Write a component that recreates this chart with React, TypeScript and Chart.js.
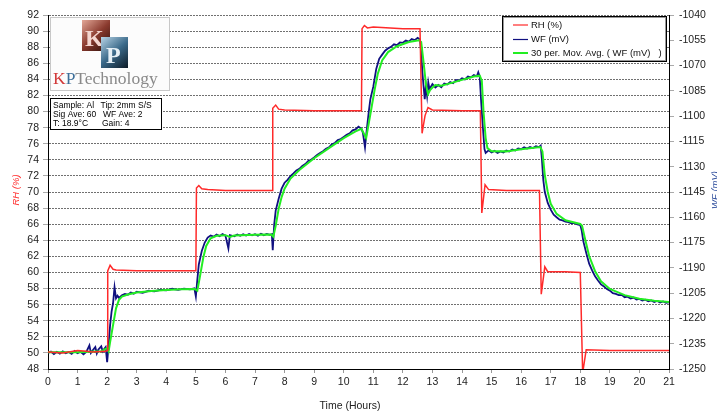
import React, { useEffect, useRef } from "react";
import { Chart, registerables } from "chart.js";

Chart.register(...registerables);

// ---------- DATA ----------
const rhTime = [0, 0.5, 1.0, 1.3, 1.5, 1.95, 2.0, 2.02, 2.1, 2.2, 2.3, 3.0, 4.0, 5.0, 5.02, 5.1, 5.2, 5.4, 6.0, 7.0, 7.58, 7.6, 7.7, 7.8, 8.0, 9.0, 10.0, 10.6, 10.62, 10.7, 10.8, 11.0, 12.0, 12.58, 12.65, 12.75, 12.85, 13.0, 14.0, 14.62, 14.67, 14.78, 14.9, 15.5, 16.62, 16.68, 16.8, 16.9, 17.5, 18.0, 18.08, 18.2, 19.0, 20.0, 21.0];
const rhValues = [50.1, 50.0, 50.3, 50.2, 50.1, 50.2, 50.3, 60.2, 60.9, 60.4, 60.3, 60.2, 60.2, 60.2, 70.5, 70.8, 70.4, 70.3, 70.2, 70.2, 70.2, 80.4, 80.8, 80.3, 80.2, 80.1, 80.1, 80.1, 90.3, 90.7, 90.4, 90.5, 90.3, 90.3, 77.3, 79.5, 80.5, 80.2, 80.1, 80.1, 67.4, 70.9, 70.3, 70.2, 70.2, 57.3, 60.7, 60.1, 60.1, 60.0, 47.5, 50.4, 50.3, 50.3, 50.3];

const wfTime = [0, 0.1, 0.2, 0.3, 0.4, 0.5, 0.6, 0.7, 0.8, 0.9, 1.0, 1.1, 1.2, 1.3, 1.4, 1.45, 1.5, 1.6, 1.65, 1.7, 1.8, 1.85, 1.9, 1.95, 2.0, 2.05, 2.1, 2.15, 2.2, 2.25, 2.3, 2.35, 2.4, 2.5, 2.6, 2.7, 2.8, 2.9, 3.0, 3.2, 3.4, 3.6, 3.8, 4.0, 4.2, 4.4, 4.6, 4.8, 4.95, 5.0, 5.05, 5.1, 5.2, 5.3, 5.4, 5.5, 5.6, 5.7, 5.8, 5.9, 6.0, 6.1, 6.15, 6.3, 6.4, 6.5, 6.6, 6.7, 6.8, 6.9, 7.0, 7.1, 7.2, 7.3, 7.4, 7.5, 7.57, 7.6, 7.65, 7.7, 7.8, 7.9, 8.0, 8.1, 8.2, 8.3, 8.4, 8.5, 8.6, 8.7, 8.8, 8.9, 9.0, 9.1, 9.2, 9.3, 9.4, 9.5, 9.6, 9.7, 9.8, 9.9, 10.0, 10.1, 10.2, 10.3, 10.4, 10.5, 10.6, 10.65, 10.72, 10.78, 10.85, 10.9, 11.0, 11.1, 11.2, 11.3, 11.4, 11.5, 11.6, 11.7, 11.8, 11.9, 12.0, 12.1, 12.2, 12.3, 12.4, 12.5, 12.58, 12.62, 12.66, 12.7, 12.74, 12.78, 12.82, 12.86, 12.9, 13.0, 13.1, 13.2, 13.3, 13.4, 13.5, 13.6, 13.7, 13.8, 13.9, 14.0, 14.1, 14.2, 14.3, 14.4, 14.5, 14.55, 14.6, 14.65, 14.72, 14.76, 14.8, 14.9, 15.0, 15.1, 15.2, 15.3, 15.4, 15.5, 15.6, 15.7, 15.8, 15.9, 16.0, 16.1, 16.2, 16.3, 16.4, 16.5, 16.6, 16.66, 16.7, 16.75, 16.8, 16.9, 17.0, 17.1, 17.2, 17.3, 17.4, 17.5, 17.6, 17.7, 17.8, 17.9, 18.0, 18.05, 18.1, 18.15, 18.2, 18.3, 18.4, 18.5, 18.6, 18.7, 18.8, 18.9, 19.0, 19.1, 19.2, 19.3, 19.4, 19.5, 19.6, 19.7, 19.8, 19.9, 20.0, 20.1, 20.2, 20.3, 20.4, 20.5, 20.6, 20.7, 20.8, 20.9, 21.0];
const wfValues = [-1240.5, -1239.6, -1241.2, -1239.8, -1240.9, -1239.5, -1240.7, -1239.9, -1241.0, -1239.3, -1240.6, -1239.8, -1241.3, -1239.7, -1236.0, -1240.5, -1239.2, -1237.0, -1240.8, -1238.5, -1236.5, -1239.5, -1238.2, -1237.0, -1246.0, -1236.0, -1224.0, -1216.0, -1211.0, -1201.5, -1208.0, -1206.5, -1207.8, -1206.2, -1205.5, -1205.9, -1204.6, -1205.3, -1204.2, -1204.8, -1203.6, -1203.9, -1203.0, -1203.4, -1202.4, -1203.0, -1202.3, -1202.8, -1202.2, -1207.0, -1197.0, -1188.0, -1180.0, -1175.0, -1172.0, -1170.8, -1171.5, -1170.3, -1171.2, -1170.0, -1170.9, -1178.5, -1170.6, -1171.3, -1170.2, -1171.0, -1170.1, -1170.8, -1169.9, -1170.7, -1170.0, -1170.9, -1169.8, -1170.6, -1169.9, -1170.4, -1170.0, -1179.5, -1164.0, -1156.0, -1149.0, -1143.0, -1139.5, -1137.8, -1135.6, -1134.0, -1132.2, -1131.3, -1129.5, -1128.4, -1126.6, -1125.9, -1124.5, -1123.0, -1121.8, -1120.8, -1119.3, -1118.5, -1116.7, -1115.9, -1114.2, -1113.6, -1112.3, -1111.0, -1110.2, -1108.4, -1107.9, -1106.2, -1107.5, -1110.0, -1118.5, -1108.0, -1097.0, -1090.0, -1082.5, -1072.0, -1066.0, -1063.5, -1061.2, -1059.8, -1058.9, -1057.4, -1057.9, -1056.3, -1056.5, -1055.2, -1055.8, -1054.3, -1054.9, -1053.5, -1054.5, -1062.0, -1074.0, -1082.0, -1090.0, -1082.0, -1088.0, -1080.0, -1084.0, -1081.0, -1083.0, -1081.5, -1082.8, -1080.6, -1081.2, -1079.8, -1080.5, -1078.6, -1079.0, -1077.6, -1078.2, -1076.5, -1077.0, -1075.6, -1076.4, -1074.0, -1076.8, -1092.0, -1110.0, -1119.5, -1121.8, -1120.3, -1121.5, -1120.6, -1121.8, -1120.9, -1121.5, -1120.4, -1121.0, -1119.8, -1120.4, -1119.2, -1119.6, -1118.5, -1119.2, -1118.3, -1118.9, -1117.9, -1118.4, -1117.5, -1125.0, -1138.0, -1145.0, -1151.5, -1155.5, -1158.5, -1160.0, -1161.4, -1161.8, -1162.6, -1162.9, -1163.6, -1163.3, -1164.2, -1164.6, -1168.0, -1174.0, -1177.5, -1181.0, -1187.5, -1191.5, -1195.0, -1197.5, -1199.8, -1201.0, -1202.6, -1203.5, -1205.0, -1205.4, -1206.2, -1206.0, -1207.4, -1207.1, -1208.2, -1207.6, -1208.8, -1208.4, -1209.4, -1208.9, -1209.8, -1209.3, -1210.2, -1209.6, -1210.5, -1209.9, -1210.8, -1210.4];

const maTime = [0, 1.0, 1.8, 1.95, 2.0, 2.05, 2.1, 2.2, 2.3, 2.4, 2.5, 2.7, 3.0, 3.5, 4.0, 4.5, 4.95, 5.05, 5.15, 5.25, 5.35, 5.5, 5.7, 6.0, 6.15, 6.3, 7.0, 7.55, 7.62, 7.7, 7.8, 7.9, 8.0, 8.2, 8.5, 9.0, 9.5, 10.0, 10.4, 10.6, 10.7, 10.76, 10.85, 10.95, 11.05, 11.15, 11.3, 11.5, 11.8, 12.2, 12.55, 12.62, 12.7, 12.78, 12.85, 12.92, 13.0, 13.1, 13.3, 13.5, 14.0, 14.4, 14.6, 14.67, 14.73, 14.8, 14.86, 15.0, 15.5, 16.0, 16.65, 16.72, 16.8, 16.9, 17.0, 17.2, 17.5, 18.0, 18.06, 18.15, 18.3, 18.5, 18.7, 19.0, 19.5, 20.0, 20.5, 21.0];
const maValues = [-1240.0, -1240.0, -1239.5, -1238.0, -1237.5, -1239.5, -1234.0, -1224.0, -1214.0, -1209.0, -1207.0, -1205.8, -1204.6, -1203.8, -1203.1, -1202.7, -1202.5, -1203.5, -1194.0, -1184.0, -1177.0, -1172.5, -1171.0, -1170.6, -1171.6, -1170.8, -1170.4, -1170.2, -1171.5, -1165.0, -1155.0, -1148.0, -1143.0, -1137.0, -1132.0, -1125.0, -1119.0, -1113.0, -1109.0, -1107.5, -1111.0, -1113.0, -1104.0, -1094.0, -1084.0, -1075.0, -1067.0, -1062.0, -1058.5, -1056.0, -1055.0, -1056.0, -1068.0, -1081.0, -1087.0, -1084.5, -1083.0, -1081.5, -1082.0, -1081.0, -1078.5, -1076.5, -1076.0, -1079.0, -1098.0, -1113.0, -1119.0, -1120.8, -1120.9, -1119.6, -1118.3, -1121.0, -1135.0, -1145.0, -1152.0, -1158.0, -1161.8, -1164.0, -1165.0, -1172.0, -1183.0, -1192.0, -1198.0, -1202.5, -1206.2, -1208.3, -1209.5, -1210.3];

const seriesNames = ["RH (%)", "WF (mV)", "30 per. Mov. Avg. ( WF (mV)   )"];
const seriesColors = ["#ff2a2a", "#101080", "#22ee22"];
const xTitle = "Time (Hours)";
const leftTitle = "RH (%)";
const rightTitle = "WF (mV)";
const infoRows = [
  ["Sample: Al", "Tip: 2mm S/S"],
  ["Sig Ave: 60", "WF Ave: 2"],
  ["T: 18.9°C", "Gain: 4"],
];
const logoWord = ["K", "P", "Technology"];

const FONT = '"Liberation Sans", Arial, sans-serif';

const toPoints = (xs: number[], ys: number[]) => xs.map((x, i) => ({ x, y: ys[i] }));

export default function App() {
  const ref = useRef<HTMLCanvasElement>(null);

  useEffect(() => {
    document.body.style.margin = "0";
    const canvas = ref.current!;

    const overlay = {
      id: "overlay",
      afterDraw(chart: any) {
        const ctx: CanvasRenderingContext2D = chart.ctx;
        ctx.save();

        // Logo
        ctx.fillStyle = "#fcfcfc";
        ctx.fillRect(50, 17, 120, 74);
        ctx.strokeStyle = "#c8c8c8";
        ctx.lineWidth = 1;
        ctx.strokeRect(50.5, 17.5, 119, 73);
        let g = ctx.createLinearGradient(82, 20, 110, 50);
        g.addColorStop(0, "#e3a898");
        g.addColorStop(0.5, "#8a3a2e");
        g.addColorStop(1, "#2a0f0a");
        ctx.fillStyle = g;
        ctx.fillRect(82, 20, 28, 31);
        ctx.fillStyle = "#f3d6d0";
        ctx.font = 'bold 24px "Liberation Serif", serif';
        ctx.textBaseline = "alphabetic";
        ctx.textAlign = "left";
        ctx.fillText("K", 85, 46);
        g = ctx.createLinearGradient(101, 37, 128, 68);
        g.addColorStop(0, "#b8d4e6");
        g.addColorStop(0.5, "#3b6a8a");
        g.addColorStop(1, "#0c1a26");
        ctx.fillStyle = g;
        ctx.fillRect(101, 37, 27, 31);
        ctx.fillStyle = "#e6f0f6";
        ctx.fillText("P", 106, 63);
        ctx.font = '17.5px "Liberation Serif", serif';
        let lx = 53;
        const logoColors = ["#d23a3a", "#3d6f9a", "#8a8a8a"];
        logoWord.forEach((w, i) => {
          ctx.fillStyle = logoColors[i];
          ctx.fillText(w, lx, 84);
          lx += ctx.measureText(w).width;
        });

        // Info box
        ctx.fillStyle = "#ffffff";
        ctx.fillRect(50, 98, 112, 32);
        ctx.strokeStyle = "#000";
        ctx.strokeRect(50.5, 98.5, 111, 31);
        ctx.fillStyle = "#000";
        ctx.font = `8.5px ${FONT}`;
        const col2 = [100.5, 103, 102];
        infoRows.forEach((row, i) => {
          ctx.fillText(row[0], 53, 108 + i * 9);
          ctx.fillText(row[1], col2[i], 108 + i * 9);
        });

        // Legend
        ctx.fillStyle = "#ffffff";
        ctx.fillRect(502, 16, 165, 46);
        ctx.strokeStyle = "#000";
        ctx.strokeRect(502.5, 16.5, 164, 45);
        ctx.strokeStyle = "#999";
        ctx.strokeRect(503.5, 17.5, 162, 43);
        const ly = [25, 39.5, 53];
        ctx.font = `9.5px ${FONT}`;
        ctx.textBaseline = "middle";
        seriesNames.forEach((n, i) => {
          ctx.strokeStyle = seriesColors[i];
          ctx.lineWidth = i === 2 ? 2 : 1.2;
          ctx.beginPath();
          ctx.moveTo(513, ly[i]);
          ctx.lineTo(528, ly[i]);
          ctx.stroke();
          ctx.fillStyle = "#111";
          ctx.fillText(n, 531, ly[i]);
        });

        // Axis titles
        ctx.textAlign = "center";
        ctx.textBaseline = "middle";
        ctx.font = `italic 9.5px ${FONT}`;
        ctx.save();
        ctx.translate(16, 190);
        ctx.rotate(-Math.PI / 2);
        ctx.fillStyle = "#ff3030";
        ctx.fillText(leftTitle, 0, 0);
        ctx.restore();
        ctx.save();
        ctx.translate(715, 190);
        ctx.rotate(-Math.PI / 2);
        ctx.fillStyle = "#2a4a9a";
        ctx.fillText(rightTitle, 0, 0);
        ctx.restore();
        ctx.font = `10.5px ${FONT}`;
        ctx.fillStyle = "#222";
        ctx.fillText(xTitle, 350, 406);

        ctx.restore();
      },
    };

    const chart = new Chart(canvas, {
      type: "line",
      data: {
        datasets: [
          {
            label: seriesNames[0],
            data: toPoints(rhTime, rhValues),
            borderColor: seriesColors[0],
            borderWidth: 1.5,
            pointRadius: 0,
            yAxisID: "y",
          },
          {
            label: seriesNames[2],
            data: toPoints(maTime, maValues),
            borderColor: seriesColors[2],
            borderWidth: 2,
            pointRadius: 0,
            yAxisID: "y2",
          },
          {
            label: seriesNames[1],
            data: toPoints(wfTime, wfValues),
            borderColor: seriesColors[1],
            borderWidth: 1.8,
            pointRadius: 0,
            yAxisID: "y2",
          },
        ],
      },
      options: {
        responsive: false,
        animation: false,
        events: [],
        layout: { padding: { top: 15, left: 0, right: 0, bottom: 0 } },
        plugins: { legend: { display: false }, tooltip: { enabled: false } },
        scales: {
          x: {
            type: "linear",
            min: 0,
            max: 21,
            ticks: { stepSize: 1, color: "#222", font: { size: 10.5, family: FONT }, padding: 3, maxRotation: 0 },
            grid: { drawOnChartArea: false, drawTicks: true, tickLength: 4, tickColor: "#999" },
            border: { display: true, color: "#000", width: 1 },
            afterFit: (s: any) => { s.height = 43; },
          },
          y: {
            type: "linear",
            position: "left",
            min: 48,
            max: 92,
            ticks: { stepSize: 2, color: "#222", font: { size: 10.5, family: FONT }, padding: 4 },
            grid: { color: "#707070", lineWidth: 1, tickLength: 5, tickColor: "#aaa" },
            border: { display: true, color: "#000", width: 1, dash: [2, 1] },
            afterFit: (s: any) => { s.width = 48; },
          },
          y2: {
            type: "linear",
            position: "right",
            min: -1250,
            max: -1040,
            ticks: {
              stepSize: 15,
              color: "#222",
              font: { size: 10.5, family: FONT },
              padding: 5,
              callback: (v: any) => String(v),
            },
            grid: { drawOnChartArea: false, tickLength: 5, tickColor: "#aaa" },
            border: { display: true, color: "#000", width: 1 },
            afterFit: (s: any) => { s.width = 48; },
          },
        },
      },
      plugins: [overlay],
    } as any);

    return () => chart.destroy();
  }, []);

  return (
    <canvas
      ref={ref}
      width={717}
      height={412}
      style={{ display: "block", width: 717, height: 412 }}
    />
  );
}
